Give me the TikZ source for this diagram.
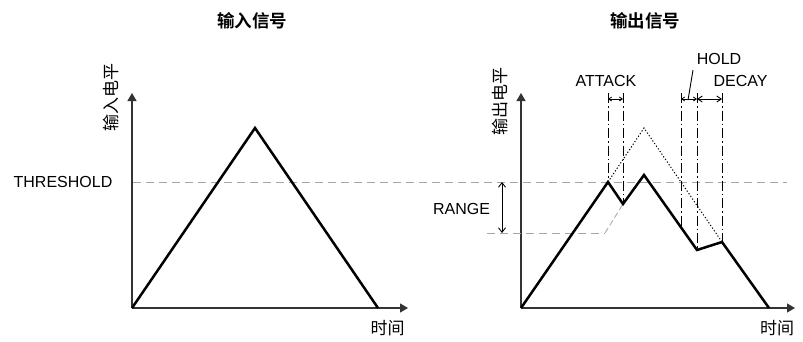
\documentclass[tikz,border=0pt]{standalone}
\usepackage{fontspec}
\setmainfont{Liberation Sans}
\newfontfamily\cjk{Noto Sans CJK SC}
\newfontfamily\cjkb{Noto Sans CJK SC Bold}
\usetikzlibrary{arrows.meta}
\tikzset{
  axis/.style={line width=1.2pt, draw=black!80, -{Triangle[length=8pt,width=9pt]}},
  sig/.style={line width=2.5pt, line join=miter, line cap=butt},
  thr/.style={line width=1pt, draw=black!35, dash pattern=on 8pt off 5pt},
  dotline/.style={line width=1pt, dash pattern=on 1.2pt off 2pt},
  dashdot/.style={line width=1pt, dash pattern=on 10pt off 3pt on 1.5pt off 3pt},
  small/.style={line width=0.8pt, {Straight Barb[length=3pt,width=4pt]}-{Straight Barb[length=3pt,width=4pt]}},
  mid/.style={line width=0.9pt, {Straight Barb[length=4.5pt,width=6pt]}-{Straight Barb[length=4.5pt,width=6pt]}},
  lbl/.style={font=\fontsize{16}{18}\selectfont, inner sep=0pt},
  cjklbl/.style={font=\cjk\fontsize{17}{19}\selectfont, inner sep=0pt},
  title/.style={font=\cjkb\fontsize{17.5}{20}\selectfont, inner sep=0pt},
}
\begin{document}
\begin{tikzpicture}[x=1pt, y=-1pt]
\useasboundingbox (0,0) rectangle (803,341);
% ---- left plot ----
\coordinate (lo) at (132,308);
\coordinate (ltop) at (132,93);
\coordinate (lright) at (408,308);
\coordinate (lpk) at (255,128);
\coordinate (lend) at (378,308);
\coordinate (thrA) at (133,182);
\coordinate (thrB) at (787,182);
\draw[thr] (thrA) -- (thrB);
\draw[axis] (lo) -- (ltop);
\draw[axis] (lo) -- (lright);
\draw[sig] (lo) -- (lpk) -- (lend);
\node[title] (t1) at (252,20.5) {输入信号};
\node[cjklbl, rotate=90] (yl1) at (111,97) {输入电平};
\node[cjklbl] (xl1) at (387.5,328) {时间};
\node[lbl] (thrl) at (63,182) {THRESHOLD};
% ---- right plot ----
\coordinate (ro) at (521,308);
\coordinate (rtop) at (521,93);
\coordinate (rright) at (795,308);
\coordinate (p1) at (608,182);
\coordinate (p2) at (623,204);
\coordinate (p3) at (644,175);
\coordinate (p4) at (697,250);
\coordinate (p5) at (722,242);
\coordinate (p6) at (769,308);
\coordinate (dpk) at (644,128);
\coordinate (h1) at (681,227);
\draw[axis] (ro) -- (rtop);
\draw[axis] (ro) -- (rright);
% range line
\coordinate (rg0) at (487,233);
\coordinate (rg1) at (605,233);
\draw[thr] (rg0) -- (rg1);
\draw[line width=0.8pt, draw=black!35, dash pattern=on 6pt off 3pt] (rg1) -- (p2);
% dotted original
\draw[dotline] (p1) -- (dpk) -- (p5);
% dash-dot verticals
\coordinate (v1) at (608,93);
\coordinate (v2) at (623,93);
\coordinate (v3) at (681,93);
\coordinate (v4) at (697,93);
\coordinate (v5) at (722,93);
\draw[dashdot] (v1) -- (p1);
\draw[dashdot] (v2) -- (p2);
\draw[dashdot] (v3) -- (h1);
\draw[dashdot] (v4) -- (p4);
\draw[dashdot] (v5) -- (p5);
% signal
\draw[sig] (ro) -- (p1) -- (p2) -- (p3) -- (p4) -- (p5) -- (p6);
% time arrows
\coordinate (a1) at (608,99);
\coordinate (a2) at (623,99);
\coordinate (a3) at (681,99);
\coordinate (a4) at (697,99);
\coordinate (a5) at (722,99);
\draw[small] (a1) -- (a2);
\draw[small] (a3) -- (a4);
\draw[mid] (a4) -- (a5);
\coordinate (hl0) at (688,100);
\coordinate (hl1) at (693,70);
\draw[line width=0.9pt] (hl0) -- (hl1);
% range arrow
\coordinate (ra) at (502,182);
\coordinate (rb) at (502,233);
\draw[line width=0.9pt, {Straight Barb[length=4.5pt,width=7pt]}-{Straight Barb[length=4.5pt,width=7pt]}] (ra) -- (rb);
% labels
\node[title] (t2) at (645,20.5) {输出信号};
\node[cjklbl, rotate=90] (yl2) at (500,101) {输出电平};
\node[cjklbl] (xl2) at (777,328) {时间};
\node[lbl] (atk) at (606,81) {ATTACK};
\node[lbl] (hold) at (719,59) {HOLD};
\node[lbl] (dec) at (740.5,81) {DECAY};
\node[lbl] (rng) at (461.5,209) {RANGE};
\end{tikzpicture}
\end{document}
